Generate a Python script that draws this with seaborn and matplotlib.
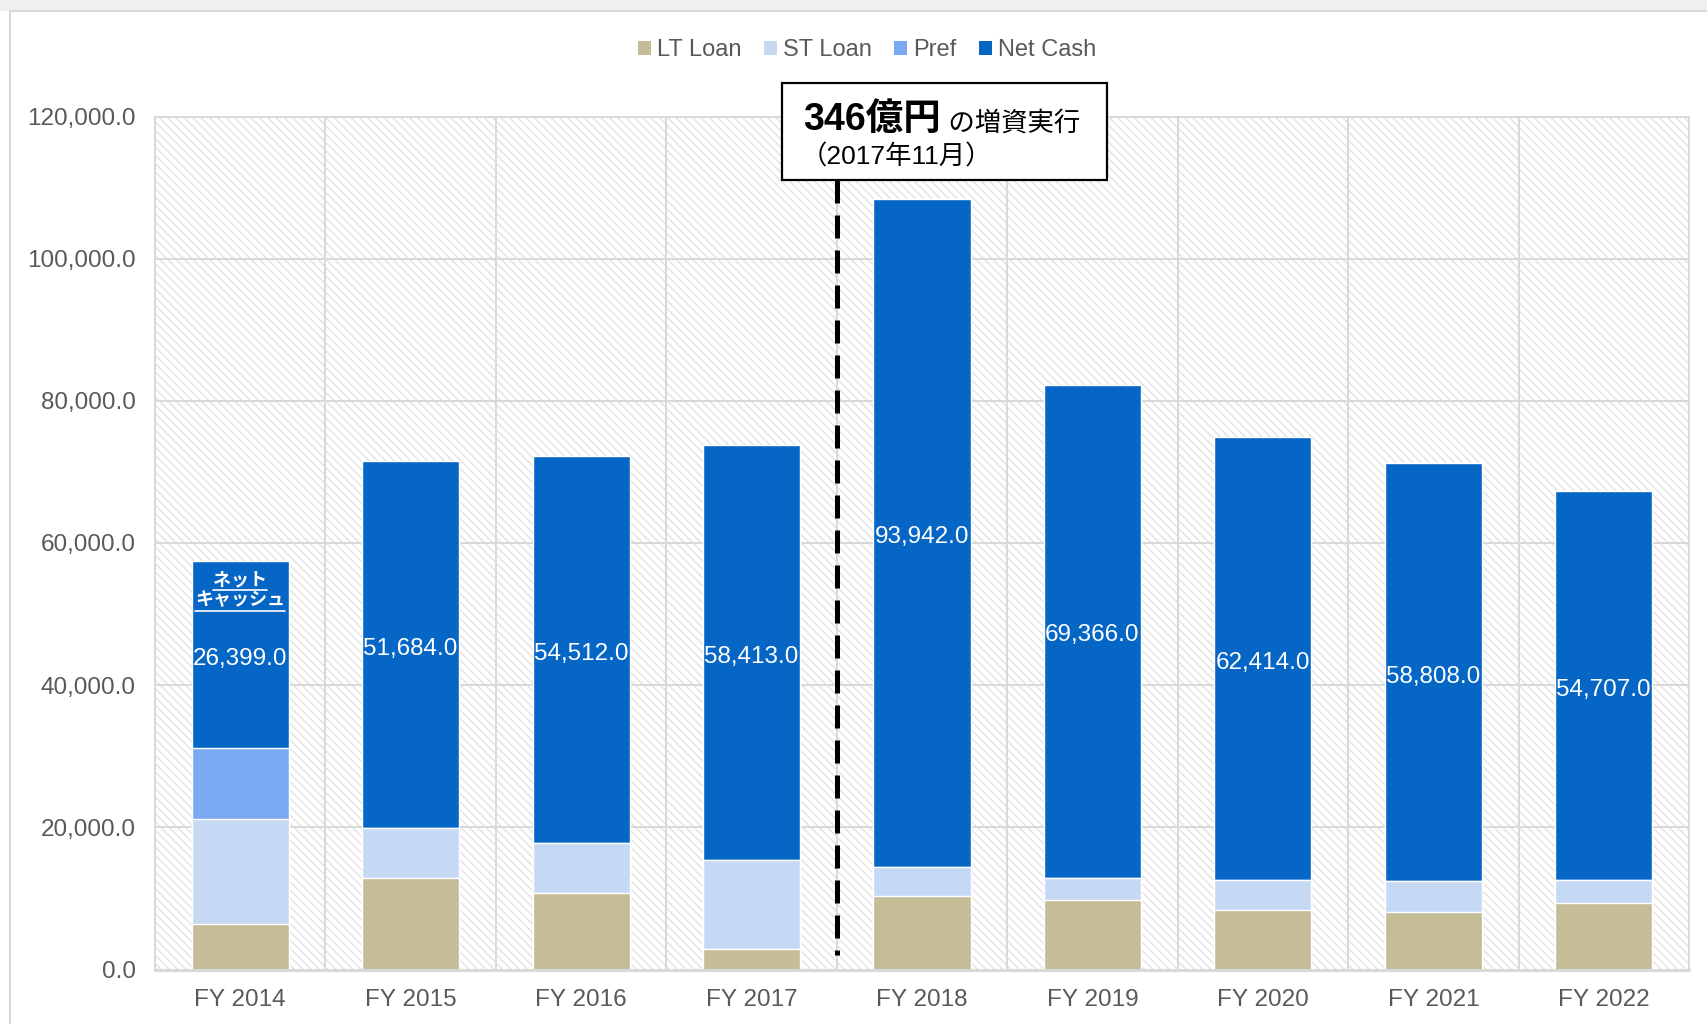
import numpy as np
import pandas as pd
import matplotlib
matplotlib.use("Agg")
import matplotlib.pyplot as plt
import seaborn as sns
from matplotlib.patches import Rectangle, Patch
from matplotlib.lines import Line2D

# ---------------- data ----------------
years = ["FY 2014", "FY 2015", "FY 2016", "FY 2017", "FY 2018",
         "FY 2019", "FY 2020", "FY 2021", "FY 2022"]
lt_loan = [6400, 12900, 10700, 2900, 10300, 9800, 8400, 8100, 9350]
st_loan = [14750, 7000, 7050, 12450, 4100, 3100, 4150, 4300, 3200]
pref = [9950, 0, 0, 0, 0, 0, 0, 0, 0]
net_cash = [26399, 51684, 54512, 58413, 93942, 69366, 62414, 58808, 54707]
series_names = ["LT Loan", "ST Loan", "Pref", "Net Cash"]
y_ticks = [0, 20000, 40000, 60000, 80000, 100000, 120000]
note_big = "346億円"
note_small = " の増資実行"
note_date = "（2017年11月）"
bar_note = ["ネット", "キャッシュ"]

colors = {"LT Loan": "#c4bd97", "ST Loan": "#c6d9f4", "Pref": "#7aa9f2", "Net Cash": "#0566c6"}

df = pd.DataFrame({"year": years, "lt": lt_loan, "st": st_loan, "pref": pref, "net": net_cash})
df["c1"] = df["lt"]
df["c2"] = df["c1"] + df["st"]
df["c3"] = df["c2"] + df["pref"]
df["c4"] = df["c3"] + df["net"]

# ---------------- style ----------------
sns.set_theme(style="white")
plt.rcParams["font.family"] = ["Liberation Sans", "Noto Sans CJK JP", "DejaVu Sans"]
plt.rcParams["hatch.linewidth"] = 1.0
GRID = "#d9d9d9"
TXT = "#595959"

fig = plt.figure(figsize=(17.08, 10.24), dpi=100)
fig.patch.set_facecolor("white")
ax = fig.add_axes([155 / 1708, 1 - 969.5 / 1024, (1689 - 155) / 1708, (969.5 - 116.5) / 1024])

# frame decorations (screenshot-like)
fig.patches.append(Rectangle((0, 1 - 11 / 1024), 1, 11 / 1024, transform=fig.transFigure,
                             facecolor="#f0f0f0", edgecolor="none", zorder=0))
fig.lines.append(Line2D([10 / 1708, 10 / 1708], [0, 1 - 11 / 1024], transform=fig.transFigure,
                        color="#d9d9d9", lw=1.5))
fig.lines.append(Line2D([10 / 1708, 1], [1 - 11 / 1024, 1 - 11 / 1024], transform=fig.transFigure,
                        color="#d9d9d9", lw=1.5))

# hatched plot area
ax.add_patch(Rectangle((0, 0), 1, 1, transform=ax.transAxes, facecolor="white",
                       edgecolor="#e2e2e2", lw=0, hatch="\\" * 4, zorder=0.1))

# stacked bars (drawn from the cumulative total downwards)
W = 0.57
for col, name in [("c4", "Net Cash"), ("c3", "Pref"), ("c2", "ST Loan"), ("c1", "LT Loan")]:
    sns.barplot(data=df, x="year", y=col, color=colors[name], width=W, saturation=1,
                errorbar=None, ax=ax, zorder=2)

ax.set_xlim(-0.5, len(years) - 0.5)
ax.set_ylim(0, 120000)
ax.set_yticks(y_ticks)
ax.set_yticklabels([f"{v:,.1f}" for v in y_ticks])
ax.set_xticks(np.arange(len(years)) + 0.5, minor=True)
ax.set_axisbelow(True)
ax.yaxis.grid(True, color=GRID, lw=1.4, zorder=0.5)
ax.xaxis.grid(True, which="minor", color=GRID, lw=1.4, zorder=0.5)
ax.xaxis.grid(False, which="major")
ax.set_xlabel("")
ax.set_ylabel("")
ax.tick_params(axis="both", which="both", length=0, labelsize=17.5, labelcolor=TXT)
ax.tick_params(axis="y", pad=14)
ax.tick_params(axis="x", pad=14)
for s in ax.spines.values():
    s.set_color(GRID)
    s.set_linewidth(1.4)
ax.spines["bottom"].set_linewidth(2.2)

# net cash value labels
for i in range(len(years)):
    yc = df["c3"][i] + df["net"][i] / 2
    ax.annotate(f"{net_cash[i]:,.1f}", xy=(i, yc), xytext=(0, -3), textcoords="offset points",
                ha="center", va="center", color="white", fontsize=17.5, zorder=5)

# "ネット キャッシュ" label inside first bar
t_a = ax.text(0, 54870, bar_note[0], ha="center", va="center", color="white",
              fontsize=13, fontweight="bold", family=["Noto Sans CJK JP"], zorder=5)
t_b = ax.text(0, 51970, bar_note[1], ha="center", va="center", color="white",
              fontsize=13, fontweight="bold", family=["Noto Sans CJK JP"], zorder=5)

# dashed separator line
ax.plot([3.5, 3.5], [111000, 2000], color="black", lw=3.6,
        linestyle=(0, (4.6, 2.4)), zorder=6, clip_on=False)

# annotation box
ax.add_patch(Rectangle((3.18, 111070), 5.087 - 3.18, 124700 - 111070, facecolor="white",
                       edgecolor="black", lw=1.6, zorder=7, clip_on=False))
t1 = ax.text(3.305, 119500, note_big, ha="left", va="center", fontsize=27, fontweight="bold",
             color="black", zorder=8, clip_on=False)
ax.annotate(note_small, xy=(1, 0), xycoords=t1, xytext=(0, 2), textcoords="offset points",
            ha="left", va="bottom", fontsize=19, color="black", zorder=8, annotation_clip=False)
ax.text(3.29, 114340, note_date, ha="left", va="center", fontsize=19, color="black",
        zorder=8, clip_on=False)

# legend
handles = [Patch(facecolor=colors[n], edgecolor="none") for n in series_names]
leg = fig.legend(handles, series_names, loc="center", bbox_to_anchor=(0.5077, 1 - 50 / 1024),
                 ncol=4, frameon=False, fontsize=17, handlelength=0.55, handleheight=0.55,
                 handletextpad=0.25, columnspacing=0.95, borderpad=0)
for t in leg.get_texts():
    t.set_color(TXT)

# underlines for the in-bar label
fig.canvas.draw()
r = fig.canvas.get_renderer()
for t in (t_a, t_b):
    bb = t.get_window_extent(renderer=r)
    y = (bb.y0 - 1) / fig.bbox.height
    fig.lines.append(Line2D([bb.x0 / fig.bbox.width, bb.x1 / fig.bbox.width], [y, y],
                            transform=fig.transFigure, color="white", lw=1.2, zorder=10))

fig.savefig("out.png", dpi=100, facecolor="white")
